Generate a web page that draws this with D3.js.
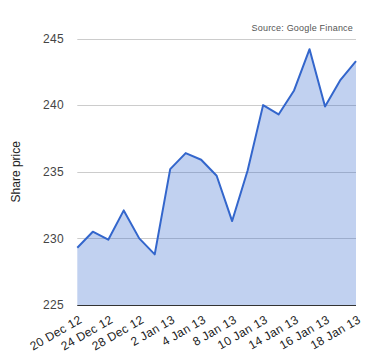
<!DOCTYPE html>
<html>
<head>
<meta charset="utf-8">
<script src="https://cdn.jsdelivr.net/npm/d3@7"></script>
<style>
  body { margin: 0; background: #fff; }
  text { font-family: Arial, "Liberation Sans", sans-serif; }
</style>
</head>
<body>
<svg id="svg"></svg>
<script>
const dates = ['20 Dec 12', '21 Dec 12', '24 Dec 12', '27 Dec 12', '28 Dec 12', '31 Dec 12',
  '2 Jan 13', '3 Jan 13', '4 Jan 13', '7 Jan 13', '8 Jan 13', '9 Jan 13', '10 Jan 13',
  '11 Jan 13', '14 Jan 13', '15 Jan 13', '16 Jan 13', '17 Jan 13', '18 Jan 13'];
const prices = [229.3, 230.5, 229.9, 232.1, 230.0, 228.8, 235.2, 236.4, 235.9, 234.7,
  231.3, 235.1, 240.0, 239.3, 241.1, 244.2, 239.9, 241.9, 243.3];
const tickLabels = ['20 Dec 12', '24 Dec 12', '28 Dec 12', '2 Jan 13', '4 Jan 13',
  '8 Jan 13', '10 Jan 13', '14 Jan 13', '16 Jan 13', '18 Jan 13'];
const yTicks = [225, 230, 235, 240, 245];

const width = 380;
const height = 360;
const margin = { top: 38.5, right: 24, bottom: 55, left: 77.3 };

const svg = d3.select('#svg')
  .attr('width', width)
  .attr('height', height);

const x = d3.scalePoint()
  .domain(dates)
  .range([margin.left, width - margin.right]);

const y = d3.scaleLinear()
  .domain([225, 245])
  .range([height - margin.bottom, margin.top]);

// gridlines
svg.append('g')
  .selectAll('line')
  .data(yTicks)
  .enter()
  .append('line')
  .attr('x1', margin.left)
  .attr('x2', width - margin.right)
  .attr('y1', d => Math.round(y(d)) + 0.5)
  .attr('y2', d => Math.round(y(d)) + 0.5)
  .attr('stroke', '#cccccc')
  .attr('stroke-width', 1);

// area + line
const area = d3.area()
  .x((d, i) => x(dates[i]))
  .y0(y(225))
  .y1(d => y(d));

const line = d3.line()
  .x((d, i) => x(dates[i]))
  .y(d => y(d));

svg.append('path')
  .datum(prices)
  .attr('d', area)
  .attr('fill', '#3366cc')
  .attr('fill-opacity', 0.3);

svg.append('path')
  .datum(prices)
  .attr('d', line)
  .attr('fill', 'none')
  .attr('stroke', '#3366cc')
  .attr('stroke-width', 2)
  .attr('stroke-linejoin', 'round');

// baseline
svg.append('line')
  .attr('x1', margin.left)
  .attr('x2', width - margin.right)
  .attr('y1', Math.round(y(225)) + 0.5)
  .attr('y2', Math.round(y(225)) + 0.5)
  .attr('stroke', '#333333')
  .attr('stroke-width', 1);

// y labels
svg.append('g')
  .selectAll('text')
  .data(yTicks)
  .enter()
  .append('text')
  .attr('x', 64)
  .attr('y', d => y(d))
  .attr('dy', '0.35em')
  .attr('text-anchor', 'end')
  .attr('font-size', 12)
  .attr('letter-spacing', 0.3)
  .attr('fill', '#444444')
  .text(d => d);

// x labels
svg.append('g')
  .selectAll('text')
  .data(tickLabels)
  .enter()
  .append('text')
  .attr('transform', d => 'translate(' + (x(d) + 5.5) + ',' + 322 + ') rotate(-30)')
  .attr('text-anchor', 'end')
  .attr('font-size', 12)
  .attr('letter-spacing', 0.3)
  .attr('fill', '#222222')
  .text(d => d);

// y title
svg.append('text')
  .attr('transform', 'translate(20,' + (y(235)) + ') rotate(-90)')
  .attr('text-anchor', 'middle')
  .attr('font-size', 12)
  .attr('fill', '#222222')
  .text('Share price');

// source
svg.append('text')
  .attr('x', 353)
  .attr('y', 31)
  .attr('text-anchor', 'end')
  .attr('font-size', 9)
  .attr('letter-spacing', 0.2)
  .attr('fill', '#555555')
  .text('Source: Google Finance');
</script>
</body>
</html>
